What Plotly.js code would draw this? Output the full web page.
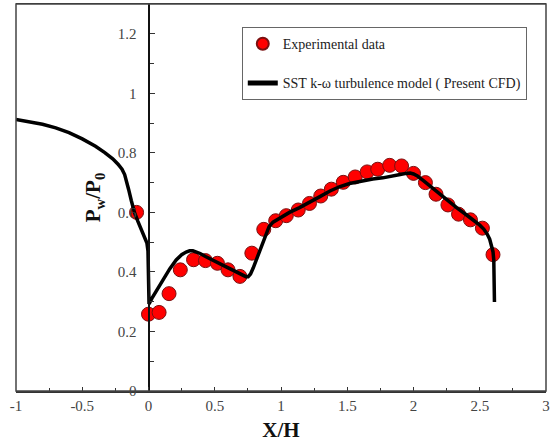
<!DOCTYPE html>
<html>
<head>
<meta charset="utf-8">
<script src="https://cdn.plot.ly/plotly-3.0.1.min.js"></script>
<style>html,body{margin:0;padding:0;background:#fff;}#chart{width:557px;height:446px;}</style>
</head>
<body>
<div id="chart"></div>
<script>
// Experimental data (red circles)
const expX = [-0.09, 0.0, 0.08, 0.155, 0.24, 0.34, 0.43, 0.52, 0.60, 0.69, 0.78, 0.87, 0.96, 1.04, 1.13, 1.215, 1.30, 1.38, 1.47, 1.56, 1.65, 1.73, 1.82, 1.91, 2.0, 2.09, 2.17, 2.26, 2.34, 2.43, 2.52, 2.60];
const expY = [0.60, 0.258, 0.264, 0.327, 0.407, 0.441, 0.438, 0.429, 0.407, 0.385, 0.463, 0.543, 0.572, 0.589, 0.608, 0.630, 0.655, 0.678, 0.701, 0.719, 0.736, 0.745, 0.758, 0.756, 0.731, 0.700, 0.661, 0.625, 0.594, 0.575, 0.547, 0.458];

// SST k-omega CFD curve
const cfdX = [-1.0, -0.9, -0.8, -0.7, -0.6, -0.5, -0.4, -0.33, -0.27, -0.23, -0.2, -0.18, -0.165, -0.15, -0.13, -0.106, -0.08, -0.055, -0.03, -0.012, -0.004, -0.001, 0.0, 0.004, 0.03, 0.07, 0.108, 0.16, 0.209, 0.25, 0.284, 0.31, 0.335, 0.36, 0.39, 0.43, 0.48, 0.536, 0.59, 0.636, 0.68, 0.71, 0.735, 0.752, 0.77, 0.79, 0.813, 0.835, 0.86, 0.885, 0.91, 0.94, 0.98, 1.064, 1.14, 1.215, 1.29, 1.366, 1.44, 1.517, 1.6, 1.693, 1.768, 1.844, 1.9, 1.945, 1.975, 2.0, 2.03, 2.07, 2.16, 2.247, 2.33, 2.398, 2.45, 2.498, 2.53, 2.555, 2.575, 2.59, 2.6, 2.606, 2.609, 2.611];
const cfdY = [0.912, 0.905, 0.896, 0.884, 0.868, 0.847, 0.822, 0.801, 0.780, 0.762, 0.745, 0.727, 0.705, 0.677, 0.640, 0.600, 0.570, 0.544, 0.518, 0.497, 0.470, 0.400, 0.304, 0.292, 0.315, 0.345, 0.373, 0.410, 0.440, 0.458, 0.467, 0.471, 0.471, 0.468, 0.462, 0.452, 0.440, 0.428, 0.416, 0.406, 0.396, 0.389, 0.384, 0.384, 0.393, 0.413, 0.440, 0.468, 0.500, 0.530, 0.552, 0.567, 0.578, 0.600, 0.616, 0.633, 0.652, 0.671, 0.686, 0.697, 0.705, 0.712, 0.716, 0.721, 0.727, 0.731, 0.732, 0.729, 0.722, 0.708, 0.675, 0.644, 0.614, 0.592, 0.575, 0.558, 0.544, 0.528, 0.510, 0.490, 0.468, 0.440, 0.380, 0.299];

const xTicks = [-1, -0.5, 0, 0.5, 1, 1.5, 2, 2.5, 3];
const xTickText = ['-1', '-0.5', '0', '0.5', '1', '1.5', '2', '2.5', '3'];
const yTicks = [0, 0.2, 0.4, 0.6, 0.8, 1, 1.2];
const yTickText = ['0', '0.2', '0.4', '0.6', '0.8', '1', '1.2'];

const serif = 'Liberation Serif';

const traces = [
  {
    x: expX, y: expY, type: 'scatter', mode: 'markers',
    name: 'Experimental data', legendgroup: 'a',
    marker: {color: '#ff0000', size: 14, line: {color: '#7a1010', width: 1}}
  },
  {
    x: cfdX, y: cfdY, type: 'scatter', mode: 'lines',
    name: 'SST k-\u03c9 turbulence model ( Present CFD)', legendgroup: 'b',
    line: {color: '#000000', width: 3.5}
  }
];

const layout = {
  width: 557, height: 446,
  margin: {l: 16, r: 11, t: 4, b: 55},
  paper_bgcolor: '#ffffff', plot_bgcolor: '#ffffff',
  font: {family: serif, color: '#333'},
  showlegend: true,
  legend: {
    x: 0.426, y: 0.94, xanchor: 'left', yanchor: 'top',
    bordercolor: '#666', borderwidth: 1, bgcolor: '#ffffff',
    font: {family: serif, size: 14, color: '#222'},
    traceorder: 'grouped', tracegroupgap: 18, itemwidth: 30,
    itemsizing: 'constant'
  },
  xaxis: {
    range: [-1, 3], domain: [0, 1],
    tickvals: xTicks, ticktext: xTickText,
    ticks: 'inside', ticklen: 4, tickcolor: '#333', tickwidth: 1,
    minor: {dtick: 0.25, ticks: 'inside', ticklen: 3, tickcolor: '#333'},
    showgrid: false, zeroline: false,
    showline: true, linecolor: '#333', linewidth: 1.5, mirror: true,
    tickfont: {family: serif, size: 15, color: '#444'},
    title: {text: '<b>X/H</b>', font: {family: serif, size: 21, color: '#111'}, standoff: 10}
  },
  yaxis: {
    range: [0, 1.3],
    anchor: 'free', position: 0.25,
    tickvals: yTicks, ticktext: yTickText,
    ticks: 'inside', ticklen: 5, tickcolor: '#333', tickwidth: 1,
    minor: {dtick: 0.1, ticks: 'inside', ticklen: 4, tickcolor: '#333'},
    ticklabelstandoff: 8,
    showgrid: false, zeroline: false,
    showline: true, linecolor: '#111', linewidth: 2,
    tickfont: {family: serif, size: 15, color: '#444'},
    title: {text: '<b>P<sub>w</sub>/P<sub>0</sub></b>', font: {family: serif, size: 21, color: '#111'}, standoff: 10}
  },
  shapes: [
    {type: 'rect', xref: 'paper', yref: 'paper', x0: 0, x1: 1, y0: 0, y1: 1,
     line: {color: '#444', width: 1.5}, layer: 'above'}
  ]
};

Plotly.newPlot('chart', traces, layout, {displayModeBar: false, staticPlot: true});
</script>
</body>
</html>
